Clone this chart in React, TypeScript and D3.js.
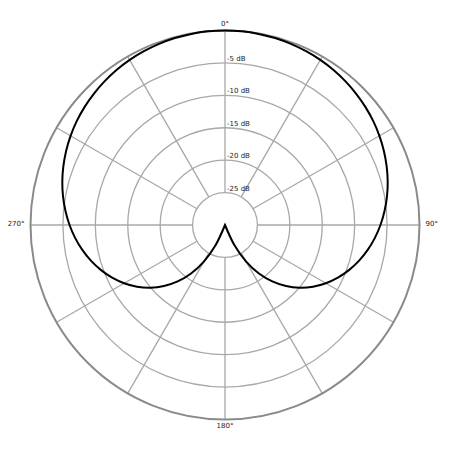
import React from "react";
import * as d3 from "d3";

// Angles in degrees (clockwise from top) and response in dB
const angles: number[] = [
  0, 5, 10, 15, 20, 25, 30, 35, 40, 45, 50, 55, 60, 65, 70, 75, 80, 85,
  90, 95, 100, 105, 110, 115, 120, 125, 130, 135, 140, 145, 150, 155, 160, 165,
  170, 175, 180, 185, 190, 195, 200, 205, 210, 215, 220, 225, 230, 235, 240, 245,
  250, 255, 260, 265, 270, 275, 280, 285, 290, 295, 300, 305, 310, 315, 320, 325,
  330, 335, 340, 345, 350, 355,
];
const responseDb: number[] = [
  0, -0.02, -0.07, -0.15, -0.27, -0.42, -0.6, -0.82, -1.08, -1.38, -1.71, -2.08, -2.5, -2.96, -3.47, -4.02, -4.63, -5.3,
  -6.02, -6.81, -7.68, -8.62, -9.66, -10.79, -12.04, -13.42, -14.96, -16.69, -18.64, -20.87, -23.48, -26.59, -30, -30,
  -30, -30, -30, -30, -30, -30, -30, -26.59, -23.48, -20.87, -18.64, -16.69, -14.96, -13.42, -12.04, -10.79,
  -9.66, -8.62, -7.68, -6.81, -6.02, -5.3, -4.63, -4.02, -3.47, -2.96, -2.5, -2.08, -1.71, -1.38, -1.08, -0.82,
  -0.6, -0.42, -0.27, -0.15, -0.07, -0.02,
];

const ringLevels: number[] = [-25, -20, -15, -10, -5, 0];
const ringLabels: string[] = ["-25 dB", "-20 dB", "-15 dB", "-10 dB", "-5 dB", ""];
const spokeAngles: number[] = [0, 30, 60, 90, 120, 150, 180, 210, 240, 270, 300, 330];
const angleLabelAngles: number[] = [0, 90, 180, 270];
const angleLabels: string[] = ["0°", "90°", "180°", "270°"];

export default function App() {
  const W = 450;
  const H = 450;
  const cx = 225;
  const cy = 225;
  const R = 194.5;
  const r = d3.scaleLinear().domain([-30, 0]).range([0, R]);
  const rad = (deg: number) => (deg * Math.PI) / 180;

  const pts = angles.map((a, i) => ({ a, v: responseDb[i] }));
  const line = d3
    .lineRadial<{ a: number; v: number }>()
    .angle((d) => rad(d.a))
    .radius((d) => r(Math.max(-30, d.v)))
    .curve(d3.curveCatmullRomClosed.alpha(0.5));

  const font = "DejaVu Sans, sans-serif";
  const innerR = r(-25);

  return (
    <svg
      width={W}
      height={H}
      style={{ position: "absolute", left: 0, top: 0, background: "#fff" }}
    >
      <rect width={W} height={H} fill="#fff" />
      <g transform={`translate(${cx},${cy})`}>
        {spokeAngles.map((a) => (
          <line
            key={"s" + a}
            x1={innerR * Math.sin(rad(a))}
            y1={-innerR * Math.cos(rad(a))}
            x2={R * Math.sin(rad(a))}
            y2={-R * Math.cos(rad(a))}
            stroke="#a8a8a8"
            strokeWidth={1.3}
          />
        ))}
        {ringLevels.map((lv) => (
          <circle
            key={"c" + lv}
            r={r(lv)}
            fill="none"
            stroke={lv === 0 ? "#8a8a8a" : "#a8a8a8"}
            strokeWidth={lv === 0 ? 2 : 1.3}
          />
        ))}
        {ringLevels.map((lv, i) =>
          ringLabels[i] ? (
            <text
              key={"t" + lv}
              x={2}
              y={-r(lv) - 2}
              fontSize={7}
              fontFamily={font}
              fill="#222"
            >
              {ringLabels[i]}
            </text>
          ) : null
        )}
        <path d={line(pts) || ""} fill="none" stroke="#000" strokeWidth={2} />
        {angleLabelAngles.map((a, i) => {
          const off = R + 8;
          const x = off * Math.sin(rad(a));
          const y = -off * Math.cos(rad(a));
          const anchor = a === 90 ? "start" : a === 270 ? "end" : "middle";
          const dx = a === 90 ? -2 : a === 270 ? 2 : 0;
          const dy = a === 0 ? 1.5 : a === 180 ? -1.5 : -1.5;
          return (
            <text
              key={"a" + a}
              x={x + dx}
              y={y + dy}
              textAnchor={anchor}
              dominantBaseline="central"
              fontSize={7}
              fontFamily={font}
              fill="#222"
            >
              {angleLabels[i]}
            </text>
          );
        })}
      </g>
    </svg>
  );
}
